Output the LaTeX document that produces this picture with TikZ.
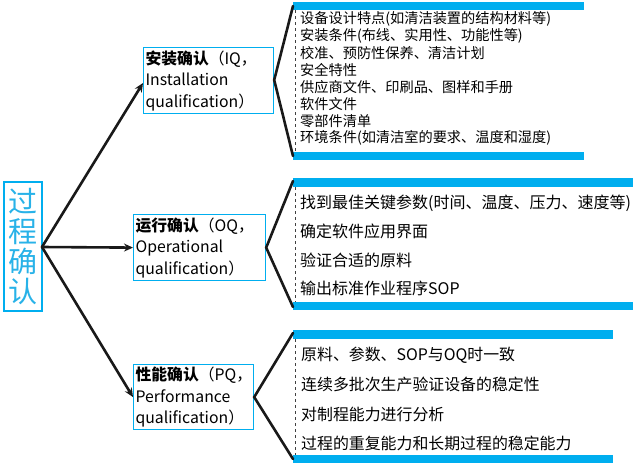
\documentclass[tikz,border=0pt]{standalone}
\usepackage{fontspec}
\setmainfont{Noto Sans CJK SC}
\usetikzlibrary{arrows.meta}
\definecolor{barblue}{RGB}{0,174,239}
\definecolor{titleblue}{RGB}{40,178,232}
\tikzset{
  conn/.style={line width=2.6pt, draw=black!90, line cap=round},
  arr/.style={conn, -{Stealth[length=9pt,width=8pt]}},
  bbox/.style={anchor=north west, align=left, inner sep=2pt,
     font=\fontsize{15.8}{21.5}\selectfont, minimum height=66pt},
  boxline/.style={draw=barblue, line width=1.2pt},
  bar/.style={fill=barblue, draw=none},
  dsh/.style={draw=black!75, dashed, line width=0.8pt},
  itemA/.style={anchor=west, inner sep=0pt, font=\fontsize{14.2}{15}\selectfont},
  itemB/.style={anchor=west, inner sep=0pt, font=\fontsize{16}{17}\selectfont},
  itemC/.style={anchor=west, inner sep=0pt, font=\fontsize{15.9}{17}\selectfont},
}
\begin{document}
\begin{tikzpicture}[x=1pt,y=-1pt]
\useasboundingbox (0,0) rectangle (633,467);
% left title box
\node[boxline, minimum width=38pt, minimum height=129pt, inner sep=0pt,
      text=titleblue, font=\fontsize{29}{30}\selectfont, align=center] (root) at (23,246.5)
      {过\\程\\确\\认};
% category boxes
\node[bbox, boxline, text width=126pt] (iq) at (143,47) {\textbf{安装确认}（IQ，\\Installation\\qualification）};
\node[bbox, boxline, text width=128pt] (oq) at (133,214) {\textbf{运行确认}（OQ，\\Operational\\qualification）};
\node[bbox, boxline, text width=116pt, minimum height=65pt] (pq) at (133,364) {\textbf{性能确认}（PQ，\\Performance\\qualification）};
% arrows
\coordinate (rootE) at (42,247);
\draw[arr] (rootE) -- (iq.west |- 0,83);
\draw[arr] (rootE) -- (oq.west);
\draw[arr] (rootE) -- (pq.west);
% bars
\fill[bar] (293,2) rectangle (584,10);
\fill[bar] (293,152) rectangle (584,160);
\fill[bar] (293,178) rectangle (633,187);
\fill[bar] (293,302) rectangle (633,310);
\fill[bar] (293,330) rectangle (613,339);
\fill[bar] (293,455) rectangle (613,463);
% dashed lines
\draw[dsh] (295,10) -- (295,152);
\draw[dsh] (295,187) -- (295,302);
\draw[dsh] (295,339) -- (295,455);
% bracket points
\coordinate (a1) at (293,6);
\coordinate (a2) at (293,156);
\coordinate (b1) at (293,181);
\coordinate (b2) at (293,307);
\coordinate (c1) at (293,333);
\coordinate (c2) at (293,459);
\draw[conn] (a1) -- (iq.east |- 0,80) -- (a2);
\draw[conn] (b1) -- (oq.east) -- (b2);
\draw[conn] (c1) -- (pq.east) -- (c2);
% top list
\node[itemA] (t1) at (300,18.5) {设备设计特点(如清洁装置的结构材料等)};
\node[itemA] (t2) at (300,35.6) {安装条件(布线、实用性、功能性等)};
\node[itemA] (t3) at (300,52.7) {校准、预防性保养、清洁计划};
\node[itemA] (t4) at (300,69.8) {安全特性};
\node[itemA] (t5) at (300,86.9) {供应商文件、印刷品、图样和手册};
\node[itemA] (t6) at (300,104) {软件文件};
\node[itemA] (t7) at (300,121.1) {零部件清单};
\node[itemA] (t8) at (300,138.2) {环境条件(如清洁室的要求、温度和湿度)};
% middle list
\node[itemB] (m1) at (300,203) {找到最佳关键参数(时间、温度、压力、速度等)};
\node[itemB] (m2) at (300,231.5) {确定软件应用界面};
\node[itemB] (m3) at (300,260) {验证合适的原料};
\node[itemB] (m4) at (300,288.5) {输出标准作业程序SOP};
% bottom list
\node[itemC] (p1) at (301,355) {原料、参数、SOP与OQ时一致};
\node[itemC] (p2) at (301,384.5) {连续多批次生产验证设备的稳定性};
\node[itemC] (p3) at (301,414) {对制程能力进行分析};
\node[itemC] (p4) at (301,443.5) {过程的重复能力和长期过程的稳定能力};
\end{tikzpicture}
\end{document}
